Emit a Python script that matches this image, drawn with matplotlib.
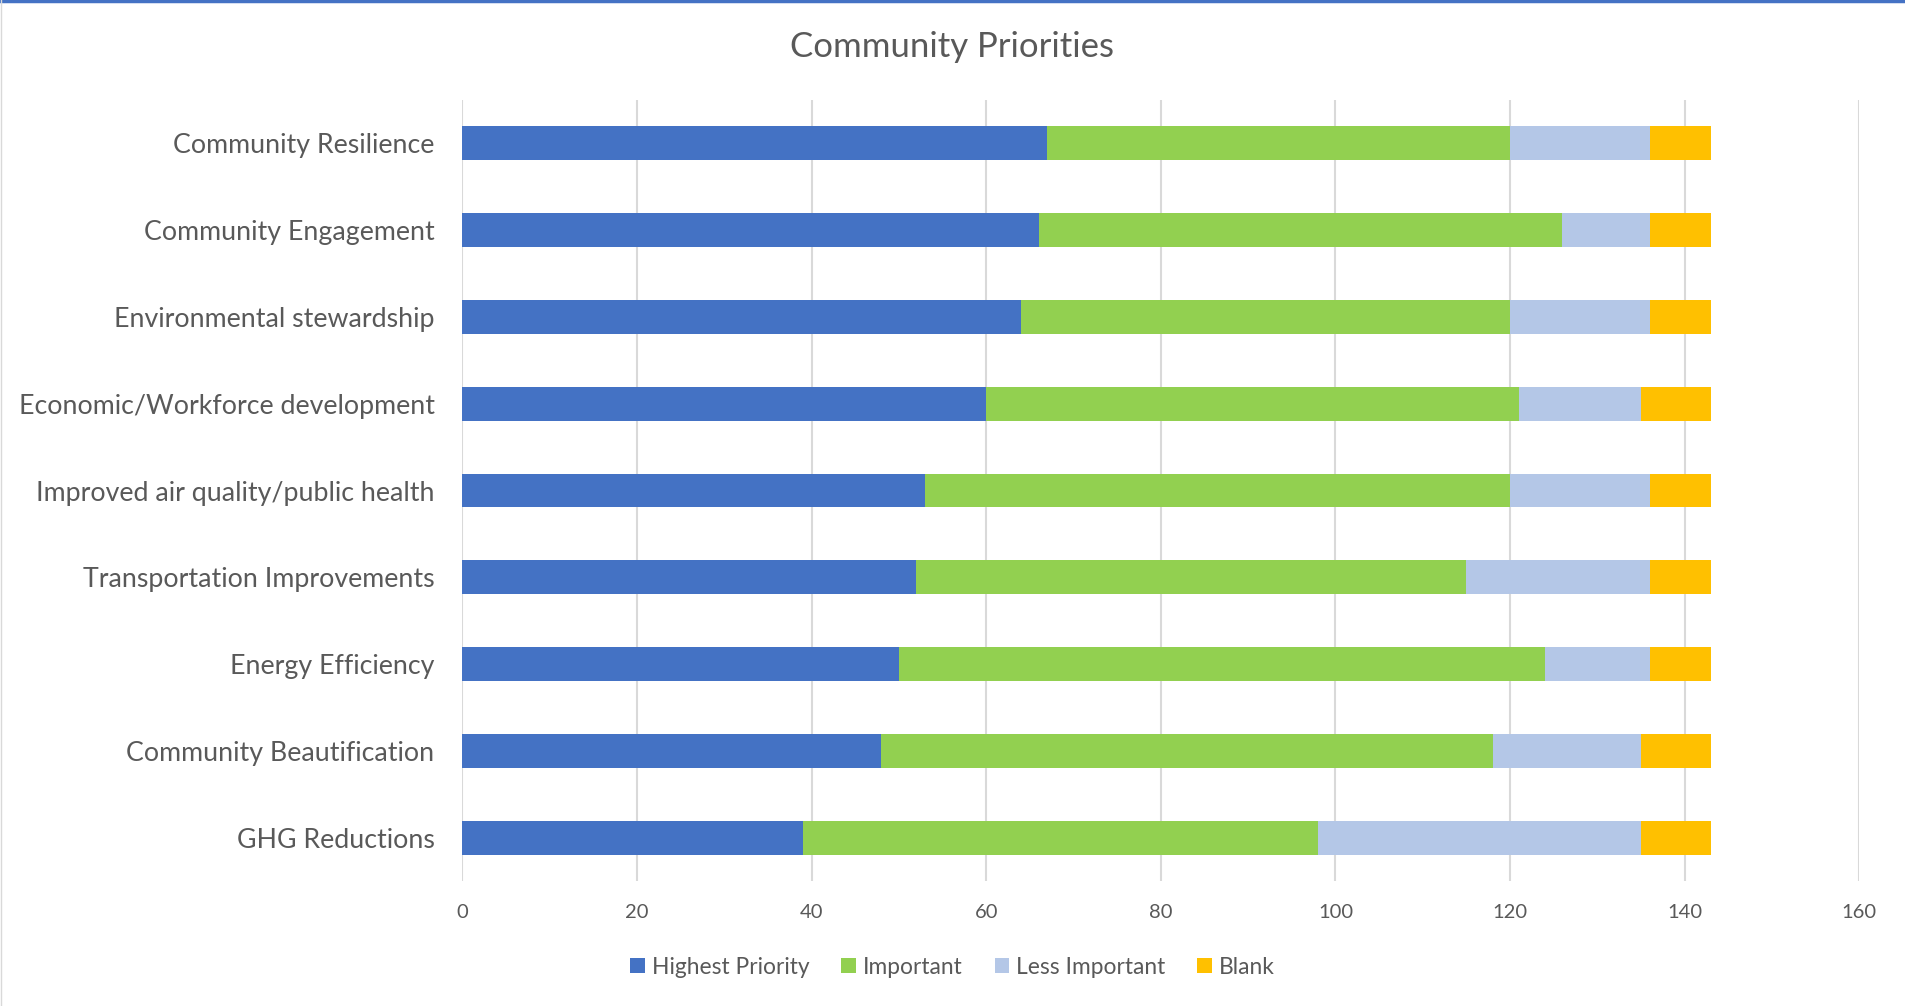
import matplotlib
matplotlib.use("Agg")
import matplotlib.pyplot as plt
from matplotlib.lines import Line2D
import numpy as np

categories = [
    "Community Resilience",
    "Community Engagement",
    "Environmental stewardship",
    "Economic/Workforce development",
    "Improved air quality/public health",
    "Transportation Improvements",
    "Energy Efficiency",
    "Community Beautification",
    "GHG Reductions",
]
highest = [67, 66, 64, 60, 53, 52, 50, 48, 39]
important = [53, 60, 56, 61, 67, 63, 74, 70, 59]
less_important = [16, 10, 16, 14, 16, 21, 12, 17, 37]
blank = [7, 7, 7, 8, 7, 7, 7, 8, 8]
series_names = ["Highest Priority", "Important", "Less Important", "Blank"]
colors = ["#4472C4", "#92D050", "#B4C7E7", "#FFC000"]
xticks = [0, 20, 40, 60, 80, 100, 120, 140, 160]

plt.rcParams['font.family'] = ['Lato', 'DejaVu Sans']
W, H = 1905, 1006
fig = plt.figure(figsize=(W / 100, H / 100), dpi=100)
ax = fig.add_axes([462.3 / W, 1 - 881.4 / H, (1859.3 - 462.3) / W, (881.4 - 99.6) / H])

y = np.arange(len(categories))
left = np.zeros(len(categories))
for vals, name, c in zip([highest, important, less_important, blank], series_names, colors):
    ax.barh(y, vals, left=left, height=0.39, color=c, label=name, zorder=3)
    left = left + np.array(vals)

ax.set_ylim(len(categories) - 0.5, -0.5)
ax.set_xlim(0, 160)
ax.set_xticks(xticks)
ax.set_yticks(y)
ax.set_yticklabels(categories, fontsize=19.3, color="#595959")
ax.tick_params(axis='y', length=0, pad=20)
ax.tick_params(axis='x', length=0, pad=16, labelsize=14.5, labelcolor="#595959")
ax.grid(axis='x', color="#D9D9D9", linewidth=1.5, zorder=0)
for s in ax.spines.values():
    s.set_visible(False)

fig.text(0.5, 1 - 47 / H, "Community Priorities", ha='center', va='center',
         fontsize=25, color="#595959")

fig.legend(loc='center', bbox_to_anchor=(0.5, 1 - 967 / H), ncol=4, frameon=False,
           fontsize=16.4, labelcolor="#595959", handlelength=0.65, handleheight=0.65,
           handletextpad=0.3, columnspacing=1.4)

fig.add_artist(Line2D([0, 1], [1 - 1 / H, 1 - 1 / H], transform=fig.transFigure,
                      color="#4472C4", linewidth=2.5))
fig.add_artist(Line2D([0.5 / W, 0.5 / W], [0, 1], transform=fig.transFigure,
                      color="#D9D9D9", linewidth=1))

fig.savefig("out.png", dpi=100, facecolor="white")
